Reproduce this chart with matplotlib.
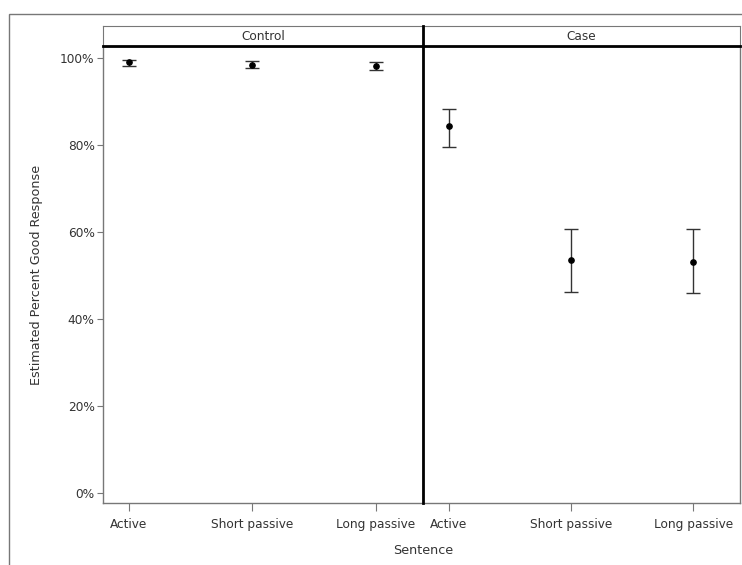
import matplotlib.pyplot as plt
from matplotlib.patches import Rectangle
from matplotlib.lines import Line2D
from matplotlib.ticker import FuncFormatter

plt.rcParams['font.family'] = ['DejaVu Sans']

sentences = ["Active", "Short passive", "Long passive"]
groups = ["Control", "Case"]

control_est = [99.0, 98.4, 98.2]
control_lo = [98.2, 97.6, 97.2]
control_hi = [99.6, 99.2, 99.1]

case_est = [84.4, 53.6, 53.2]
case_lo = [79.5, 46.3, 45.9]
case_hi = [88.3, 60.8, 60.6]

est = [control_est, case_est]
lo = [control_lo, case_lo]
hi = [control_hi, case_hi]

W, H = 742, 565
fig = plt.figure(figsize=(W / 100, H / 100), dpi=100)

# outer frame
fig.patches.append(Rectangle((9 / W, -0.1), 1.0, 1 - 14 / H + 0.1, transform=fig.transFigure,
                             fill=False, edgecolor="#777777", linewidth=1.0))

panels = [(103, 423), (423, 740)]
top, bottom, strip_top = 46, 503, 26
gray = "#777777"
txt = "#333333"
fs = 8.7

for k, (x0, x1) in enumerate(panels):
    ax = fig.add_axes([x0 / W, 1 - bottom / H, (x1 - x0) / W, (bottom - top) / H])
    xs = list(range(len(sentences)))
    yerr = [[e - l for e, l in zip(est[k], lo[k])], [h - e for e, h in zip(est[k], hi[k])]]
    ax.errorbar(xs, est[k], yerr=yerr, fmt="o", color="black", ecolor="#333333",
                markersize=3.8, capsize=5, capthick=1.0, elinewidth=1.0)
    ax.set_xlim(-0.21, 2.38)
    ax.set_ylim(-2.3, 102.76)
    ax.set_xticks(xs)
    ax.set_xticklabels(sentences, fontsize=fs, color=txt)
    ax.tick_params(axis="x", length=6, color=gray, pad=5)
    for s in ax.spines.values():
        s.set_color(gray)
        s.set_linewidth(1.0)
    if k == 0:
        ax.set_yticks([0, 20, 40, 60, 80, 100])
        ax.yaxis.set_major_formatter(FuncFormatter(lambda v, p: f"{v:.0f}%"))
        ax.tick_params(axis="y", length=4, color=gray, labelsize=fs, labelcolor=txt, pad=2)
        ax.set_ylabel("Estimated Percent Good Response", fontsize=fs + 0.5, color=txt, labelpad=12)
    else:
        ax.set_yticks([])
        ax.spines["left"].set_visible(False)

    # header strip
    sax = fig.add_axes([x0 / W, 1 - top / H, (x1 - x0) / W, (top - strip_top) / H])
    sax.set_xticks([])
    sax.set_yticks([])
    for s in sax.spines.values():
        s.set_color(gray)
    sax.spines["bottom"].set_color("black")
    sax.spines["bottom"].set_linewidth(2.0)
    sax.text(0.5, 0.5, groups[k], ha="center", va="center", fontsize=fs, color=txt,
             transform=sax.transAxes)

# thick divider between panels
fig.add_artist(Line2D([423 / W, 423 / W], [1 - bottom / H, 1 - strip_top / H],
                      transform=fig.transFigure, color="black", linewidth=2.0))

fig.text(423 / W, 1 - 550 / H, "Sentence", ha="center", va="center", fontsize=fs + 0.5, color=txt)

fig.savefig("out.png", dpi=100)
